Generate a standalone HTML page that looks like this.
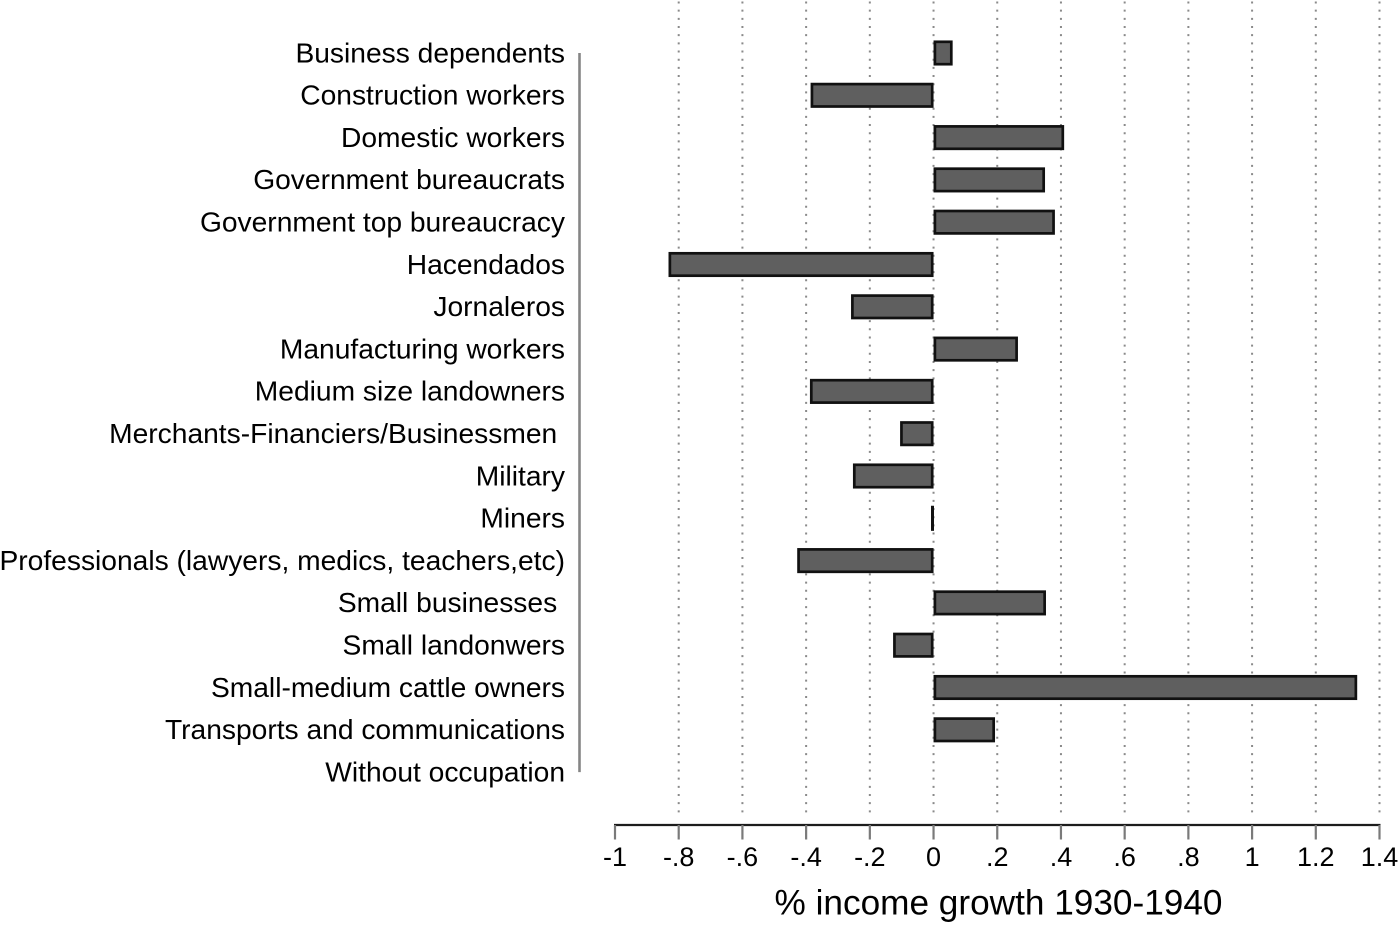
<!DOCTYPE html>
<html lang="en">
<head>
<meta charset="utf-8">
<title>% income growth 1930-1940 by occupation</title>
<style>
  html, body { margin: 0; padding: 0; background: #fff; }
  svg { display: block; }
  text { font-family: "Liberation Sans", Arial, sans-serif; fill: #000; white-space: pre; }
</style>
</head>
<body>
<svg id="chart" xmlns="http://www.w3.org/2000/svg" width="1400" height="925" viewBox="0 0 1400 925">
  <rect x="0" y="0" width="1400" height="925" fill="#ffffff"/>
  <g id="grid"></g>
  <g id="bars"></g>
  <g id="yaxis"></g>
  <g id="xaxis"></g>
  <text x="998.5" y="914.5" font-size="35.2" text-anchor="middle">% income growth 1930-1940</text>
</svg>
<script>
const categories = [
  "Business dependents",
  "Construction workers",
  "Domestic workers",
  "Government bureaucrats",
  "Government top bureaucracy",
  "Hacendados",
  "Jornaleros",
  "Manufacturing workers",
  "Medium size landowners",
  "Merchants-Financiers/Businessmen ",
  "Military",
  "Miners",
  "Professionals (lawyers, medics, teachers,etc)",
  "Small businesses ",
  "Small landonwers",
  "Small-medium cattle owners",
  "Transports and communications",
  "Without occupation"
];
const growthValues = [0.06, -0.386, 0.41, 0.35, 0.381, -0.832, -0.259, 0.265, -0.388, -0.105, -0.253, -0.008, -0.428, 0.353, -0.127, 1.33, 0.193, null];
const tickValues = [-1, -0.8, -0.6, -0.4, -0.2, 0, 0.2, 0.4, 0.6, 0.8, 1, 1.2, 1.4];
const tickLabels = ["-1", "-.8", "-.6", "-.4", "-.2", "0", ".2", ".4", ".6", ".8", "1", "1.2", "1.4"];

const NS = "http://www.w3.org/2000/svg";
const xMin = -1, xMax = 1.4, xLeft = 615, xRight = 1379.5;
const firstRowY = 53, rowStep = 42.3, barHeight = 22.4, barStroke = 2.7;
const axisY = 825;

function xScale(v) {
  return xLeft + (v - xMin) * (xRight - xLeft) / (xMax - xMin);
}
function yScale(i) {
  return firstRowY + i * rowStep;
}
function make(tag, parent, attrs) {
  const el = document.createElementNS(NS, tag);
  for (const k in attrs) el.setAttribute(k, attrs[k]);
  parent.appendChild(el);
  return el;
}

const gridG = document.getElementById("grid");
const barsG = document.getElementById("bars");
const yG = document.getElementById("yaxis");
const xG = document.getElementById("xaxis");

// vertical dotted gridlines (not at the axis start)
tickValues.forEach(function (t) {
  if (t === xMin) return;
  const line = make("line", gridG, {
    x1: xScale(t), x2: xScale(t), y1: 1.5, y2: 818,
    stroke: "#8a8a8a", "stroke-width": 2, "stroke-dasharray": "2 6.17"
  });
  
  
});

// bars: the outer edge of the stroke sits on the value and the zero line
growthValues.forEach(function (v, i) {
  if (v === null) return;
  const x0 = xScale(0), x1 = xScale(v);
  const bar = make("rect", barsG, {
    x: Math.min(x0, x1) + barStroke / 2,
    y: yScale(i) - barHeight / 2,
    width: Math.max(0.3, Math.abs(x1 - x0) - barStroke),
    height: barHeight,
    fill: "#5f5f5f", stroke: "#111111", "stroke-width": barStroke
  });
  
  
});

// y axis line and category labels
const yLine = make("line", yG, {
  x1: 579.5, x2: 579.5, y1: yScale(0), y2: yScale(categories.length - 1),
  stroke: "#858585", "stroke-width": 2.6
});



categories.forEach(function (c, i) {
  const label = make("text", yG, {
    x: 565, y: yScale(i) + 9.3, "font-size": 28.2, "text-anchor": "end"
  });
  
  
  label.textContent = c;
});

// x axis line, ticks, labels
const xLine = make("line", xG, {
  x1: xLeft - 1, x2: xRight + 1, y1: axisY, y2: axisY,
  stroke: "#1c1c1c", "stroke-width": 2.2
});



tickValues.forEach(function (t, i) {
  const tick = make("line", xG, {
    x1: xScale(t), x2: xScale(t), y1: axisY, y2: 839.5,
    stroke: "#7a7a7a", "stroke-width": 2.2
  });
  
  
  const lbl = make("text", xG, {
    x: xScale(t), y: 866, "font-size": 27, "text-anchor": "middle"
  });
  
  
  lbl.textContent = tickLabels[i];
});
</script>
</body>
</html>
